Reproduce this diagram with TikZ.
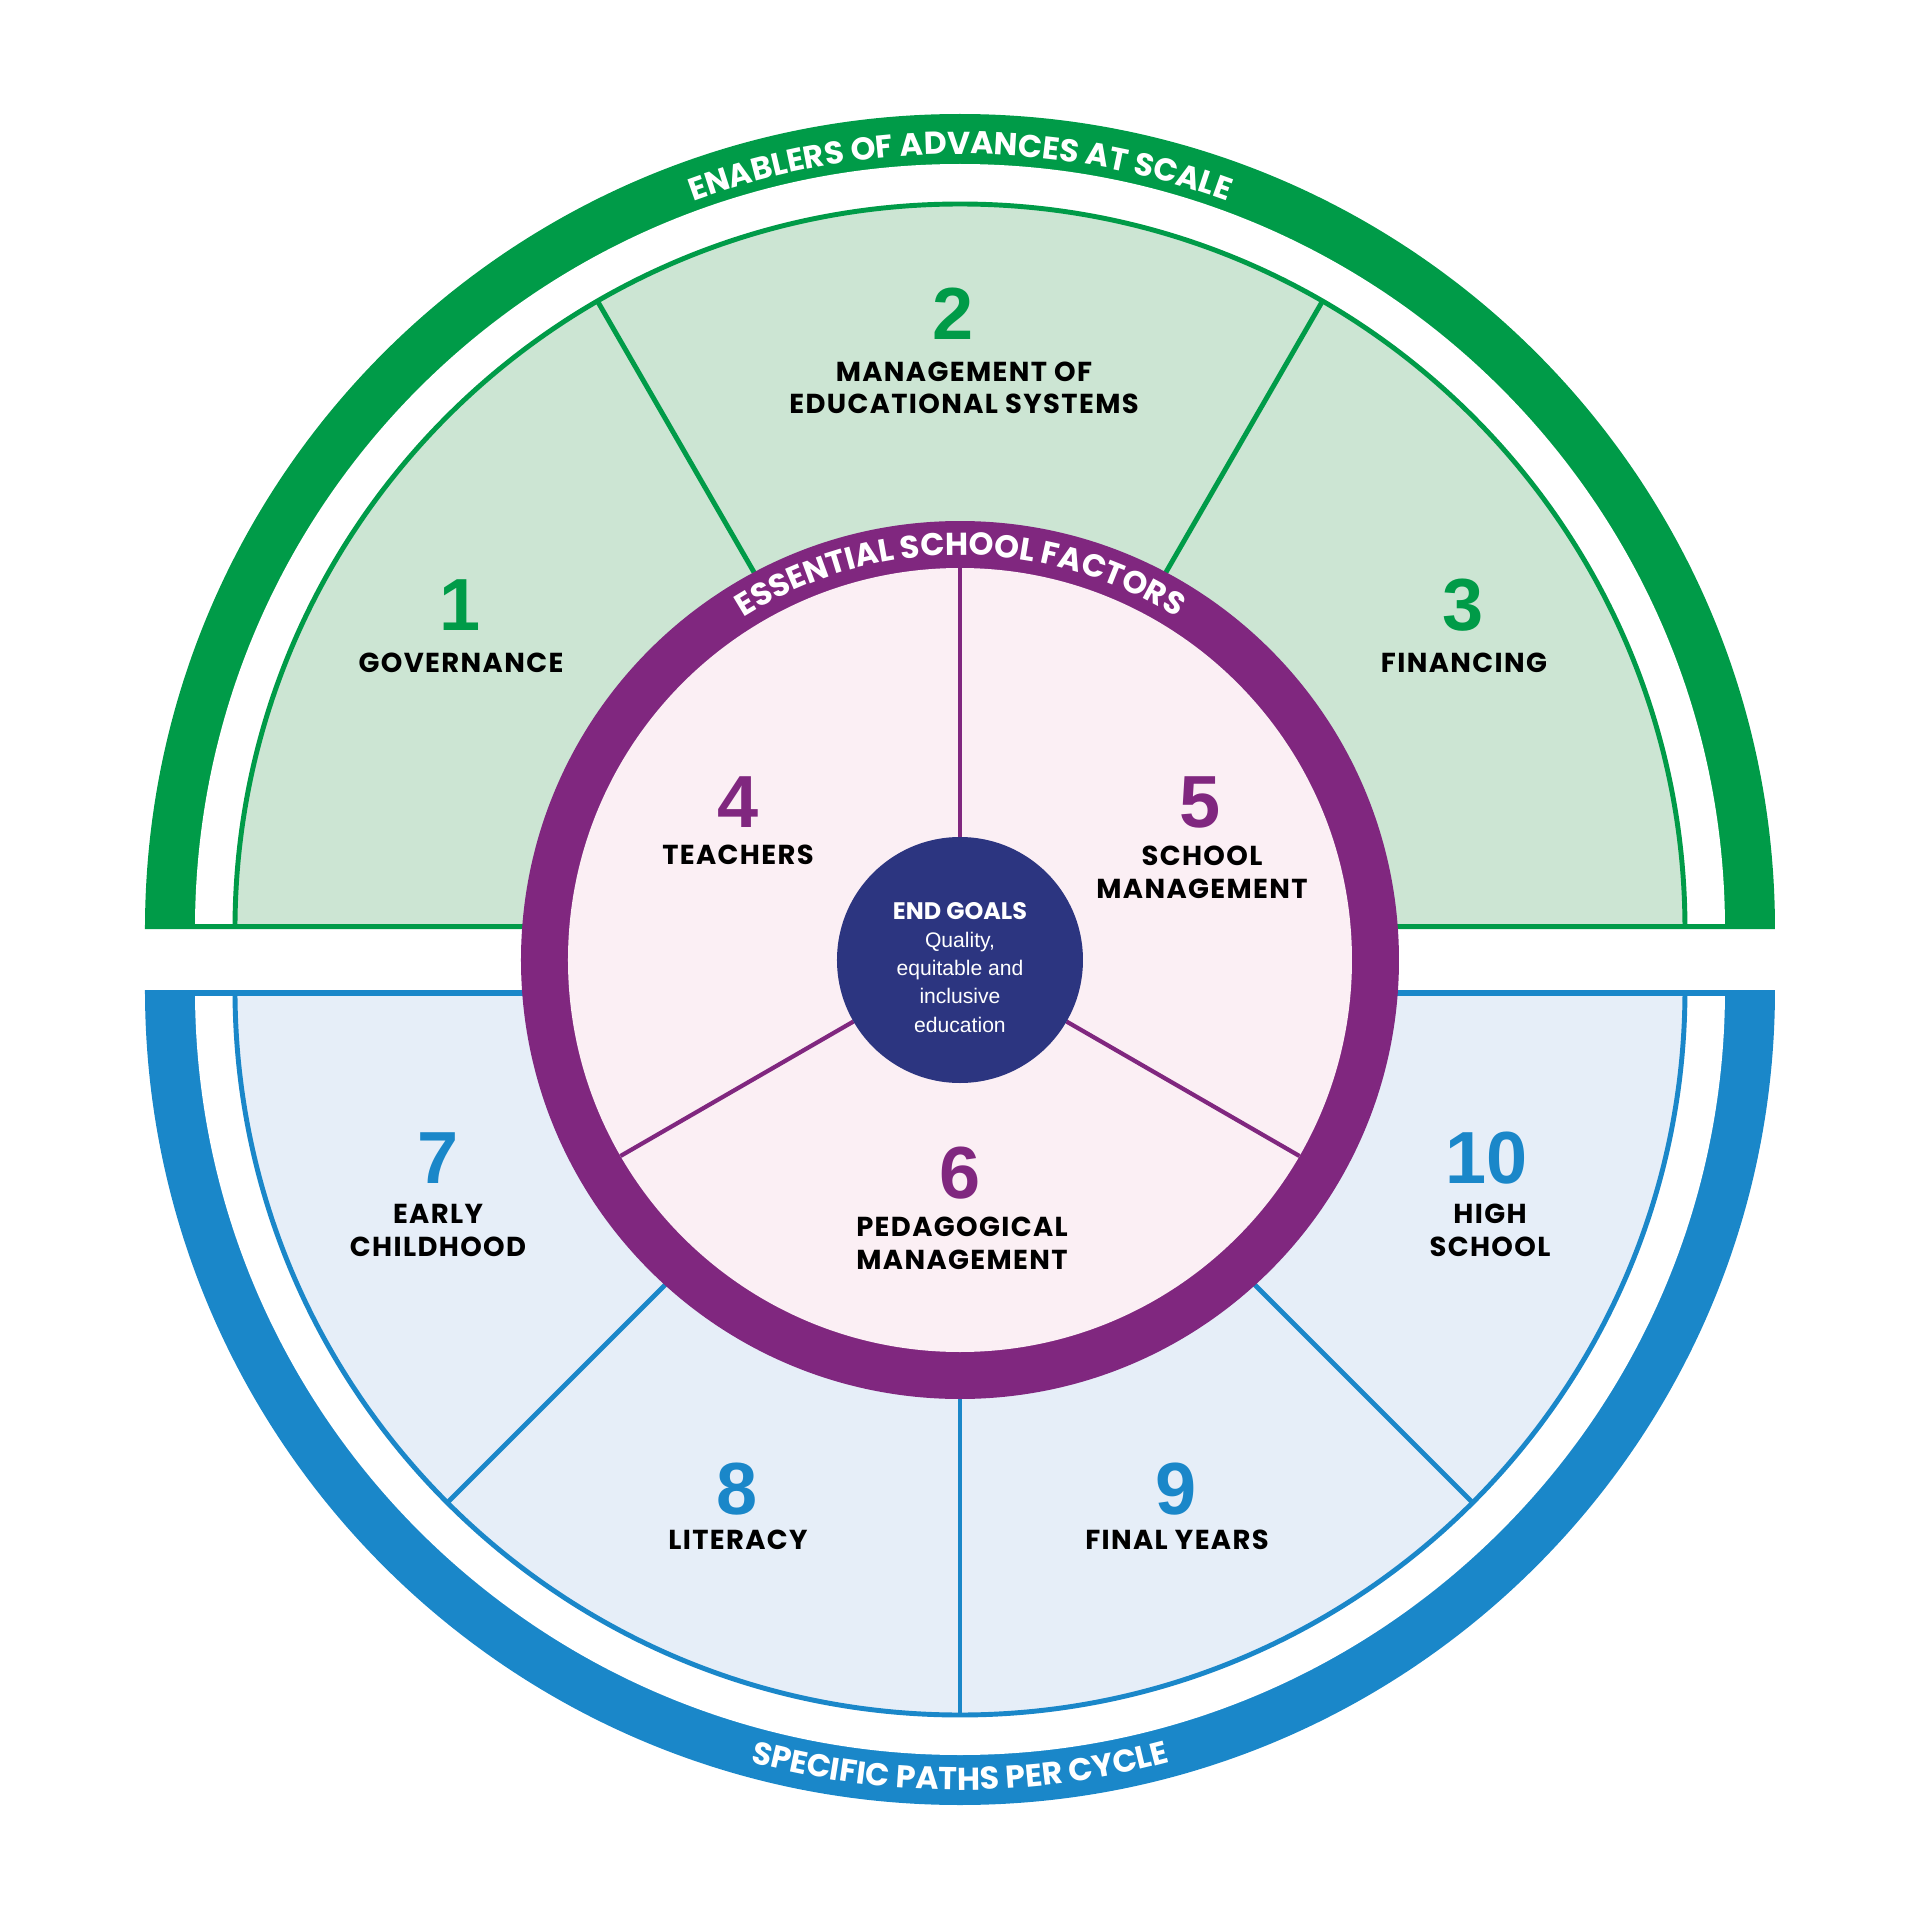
\documentclass[tikz,border=0pt]{standalone}
\usepackage{fontspec}
\setmainfont{Liberation Sans}
\newfontfamily\headfont{Poppins}
\newfontfamily\labelfont{Poppins}[LetterSpace=5]
\usetikzlibrary{decorations.text}

\definecolor{enablegreen}{RGB}{0,155,72}
\definecolor{enablefill}{RGB}{204,229,211}
\definecolor{pathblue}{RGB}{26,135,201}
\definecolor{pathfill}{RGB}{230,238,248}
\definecolor{schoolpurple}{RGB}{128,39,127}
\definecolor{schoolfill}{RGB}{251,239,244}
\definecolor{goalnavy}{RGB}{44,53,128}

\begin{document}
\begin{tikzpicture}[x=0.01cm,y=0.01cm,
    num/.style={font=\fontsize{21}{21}\selectfont\bfseries,anchor=base,inner sep=0pt},
    lbl/.style={font=\labelfont\fontsize{7.8}{9.3}\selectfont\bfseries,anchor=base,
                align=center,inner sep=0pt},
    goal/.style={font=\fontsize{6}{8}\selectfont,text=white,anchor=base,
                 align=center,inner sep=0pt}]
  \useasboundingbox (-960,-960) rectangle (960,960);

  % --- Parameters ---
  \def\yup{31}
  \def\ydn{-30}
  \def\rband{815}
  \def\rgap{765}
  \def\rsec{725}
  \def\rring{439}
  \def\rin{392}
  \def\rgoal{123}

  % --- Upper half: enablers ---
  \fill[enablegreen] (-\rband,\yup) arc[start angle=180,end angle=0,radius=\rband] -- cycle;
  \begin{scope}
    \clip (-900,\yup+6) rectangle (900,950);
    \fill[white] (0,\yup) circle (\rgap);
    \fill[enablefill] (0,\yup) circle (\rsec);
    \draw[enablegreen,line width=1.4pt] (0,\yup) circle (\rsec);
    \foreach \a in {60,120}
      \draw[enablegreen,line width=1.4pt] (0,\yup) -- ++(\a:\rsec);
  \end{scope}

  % --- Lower half: paths ---
  \fill[pathblue] (-\rband,\ydn) arc[start angle=180,end angle=360,radius=\rband] -- cycle;
  \begin{scope}
    \clip (-900,\ydn-6) rectangle (900,-950);
    \fill[white] (0,\ydn) circle (\rgap);
    \fill[pathfill] (0,\ydn) circle (\rsec);
    \draw[pathblue,line width=1.4pt] (0,\ydn) circle (\rsec);
    \foreach \a in {225,270,315}
      \draw[pathblue,line width=1.4pt] (0,\ydn) -- ++(\a:\rsec);
  \end{scope}

  % --- School factors ring ---
  \fill[schoolpurple] (0,0) circle (\rring);
  \fill[schoolfill] (0,0) circle (\rin);
  \foreach \a in {90,210,330}
    \draw[schoolpurple,line width=1.2pt] (\a:\rgoal) -- (\a:\rin);
  \fill[goalnavy] (0,0) circle (\rgoal);

  % --- Curved titles ---
  \path[decorate,decoration={text along path,text align=center,text color=white,
        text={|\headfont\bfseries\fontsize{9}{9}\selectfont|ENABLERS OF ADVANCES AT SCALE}}]
       (0,\yup) ++(120:775) arc[start angle=120,end angle=60,radius=775];
  \path[decorate,decoration={text along path,text align=center,text color=white,
        text={|\headfont\bfseries\fontsize{9}{9}\selectfont|ESSENTIAL SCHOOL FACTORS}}]
       (130:405) arc[start angle=130,end angle=50,radius=405];
  \path[decorate,decoration={text along path,text align=center,text color=white,
        text={|\headfont\bfseries\fontsize{9}{9}\selectfont|SPECIFIC PATHS PER CYCLE}}]
       (0,\ydn) ++(245:800) arc[start angle=245,end angle=295,radius=800];

  % --- Enablers ---
  \node[num,text=enablegreen] (n1) at (-500,330) {1};
  \node[lbl] (l1) at (-499,288) {GOVERNANCE};
  \node[num,text=enablegreen] (n2) at (-7,620) {2};
  \node[lbl] (l2) at (4,546) {MANAGEMENT OF\\EDUCATIONAL SYSTEMS};
  \node[num,text=enablegreen] (n3) at (503,330) {3};
  \node[lbl] (l3) at (504,288) {FINANCING};

  % --- School factors ---
  \node[num,text=schoolpurple] (n4) at (-222,133) {4};
  \node[lbl] (l4) at (-222,96) {TEACHERS};
  \node[num,text=schoolpurple] (n5) at (240,133) {5};
  \node[lbl] (l5) at (242,62) {SCHOOL\\MANAGEMENT};
  \node[num,text=schoolpurple] (n6) at (0,-238) {6};
  \node[lbl] (l6) at (2,-309) {PEDAGOGICAL\\MANAGEMENT};

  % --- Paths per cycle ---
  \node[num,text=pathblue] (n7) at (-522,-223) {7};
  \node[lbl] (l7) at (-522,-296) {EARLY\\CHILDHOOD};
  \node[num,text=pathblue] (n8) at (-223,-554) {8};
  \node[lbl] (l8) at (-222,-589) {LITERACY};
  \node[num,text=pathblue] (n9) at (216,-554) {9};
  \node[lbl] (l9) at (217,-589) {FINAL YEARS};
  \node[num,text=pathblue] (n10) at (527,-223) {10};
  \node[lbl] (l10) at (530,-296) {HIGH\\SCHOOL};

  % --- End goals ---
  \node[goal] (g) at (0,-72)
       {{\headfont\bfseries\fontsize{6.8}{8}\selectfont END GOALS}\\Quality,\\
        equitable and\\inclusive\\education};
\end{tikzpicture}
\end{document}
